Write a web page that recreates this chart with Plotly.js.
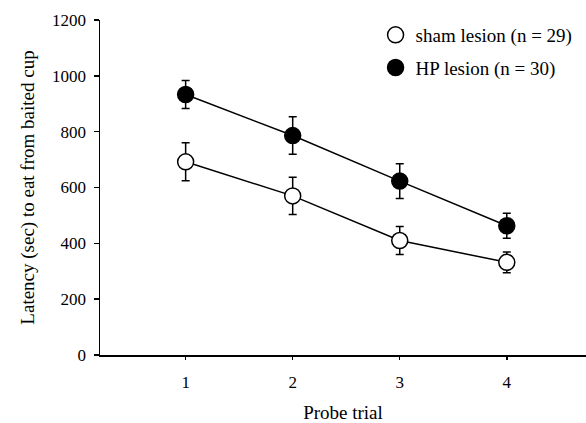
<!DOCTYPE html>
<html><head><meta charset="utf-8">
<script src="https://cdn.plot.ly/plotly-3.0.1.min.js"></script>
<style>html,body{margin:0;padding:0;background:#fff}#c{width:586px;height:423px}</style>
</head><body><div id="c"></div>
<script>
const trials = [1, 2, 3, 4];
const shamMean = [692, 570, 410, 332];
const shamErr = [68, 67, 50, 37];
const hpMean = [933, 786, 623, 463];
const hpErr = [50, 67, 62, 45];
const shamName = 'sham lesion (n = 29)';
const hpName = 'HP lesion (n = 30)';
const yTicks = [0, 200, 400, 600, 800, 1000, 1200];

const font = 'Liberation Serif, Times New Roman, serif';
const lineStyle = {color: '#000', width: 1.5};

const traces = [
  {x: trials, y: shamMean, mode: 'lines', line: lineStyle, showlegend: false, hoverinfo: 'skip'},
  {x: trials, y: hpMean, mode: 'lines', line: lineStyle, showlegend: false, hoverinfo: 'skip'},
  {x: trials, y: shamMean, name: shamName, mode: 'markers', legendgroup: 'a',
   marker: {symbol: 'circle', size: 16, color: '#fff', line: {color: '#000', width: 1.5}},
   error_y: {type: 'data', array: shamErr, visible: true, color: '#000', thickness: 1.5, width: 4}},
  {x: trials, y: hpMean, name: hpName, mode: 'markers', legendgroup: 'b',
   marker: {symbol: 'circle', size: 16, color: '#000', line: {color: '#000', width: 1.5}},
   error_y: {type: 'data', array: hpErr, visible: true, color: '#000', thickness: 1.5, width: 4}}
];

const layout = {
  width: 586, height: 423,
  margin: {l: 100, r: 0, t: 20, b: 68},
  paper_bgcolor: '#fff', plot_bgcolor: '#fff',
  font: {family: font, size: 17, color: '#000'},
  showlegend: true,
  legend: {x: 0.567, y: 1.012, xanchor: 'left', yanchor: 'top', traceorder: 'grouped',
           tracegroupgap: 5, font: {family: font, size: 19, color: '#000'}, bgcolor: 'rgba(0,0,0,0)'},
  xaxis: {range: [0.2, 4.74], tickvals: trials, ticktext: trials.map(String),
          showgrid: false, zeroline: false, showline: true, linecolor: '#000', linewidth: 1.5,
          ticks: 'outside', ticklen: 3, tickwidth: 1.5, tickcolor: '#000', ticklabelstandoff: 8,
          tickfont: {family: font, size: 17},
          title: {text: 'Probe trial', font: {family: font, size: 19}, standoff: 16}},
  yaxis: {range: [0, 1200], tickvals: yTicks, showgrid: false, zeroline: false,
          showline: true, linecolor: '#000', linewidth: 1.5,
          ticks: 'outside', ticklen: 5, tickwidth: 1.5, tickcolor: '#000', ticklabelstandoff: 4,
          tickfont: {family: font, size: 17},
          title: {text: 'Latency (sec) to eat from baited cup', font: {family: font, size: 19}, standoff: 12}}
};

Plotly.newPlot('c', traces, layout, {displayModeBar: false, staticPlot: true});
</script></body></html>
